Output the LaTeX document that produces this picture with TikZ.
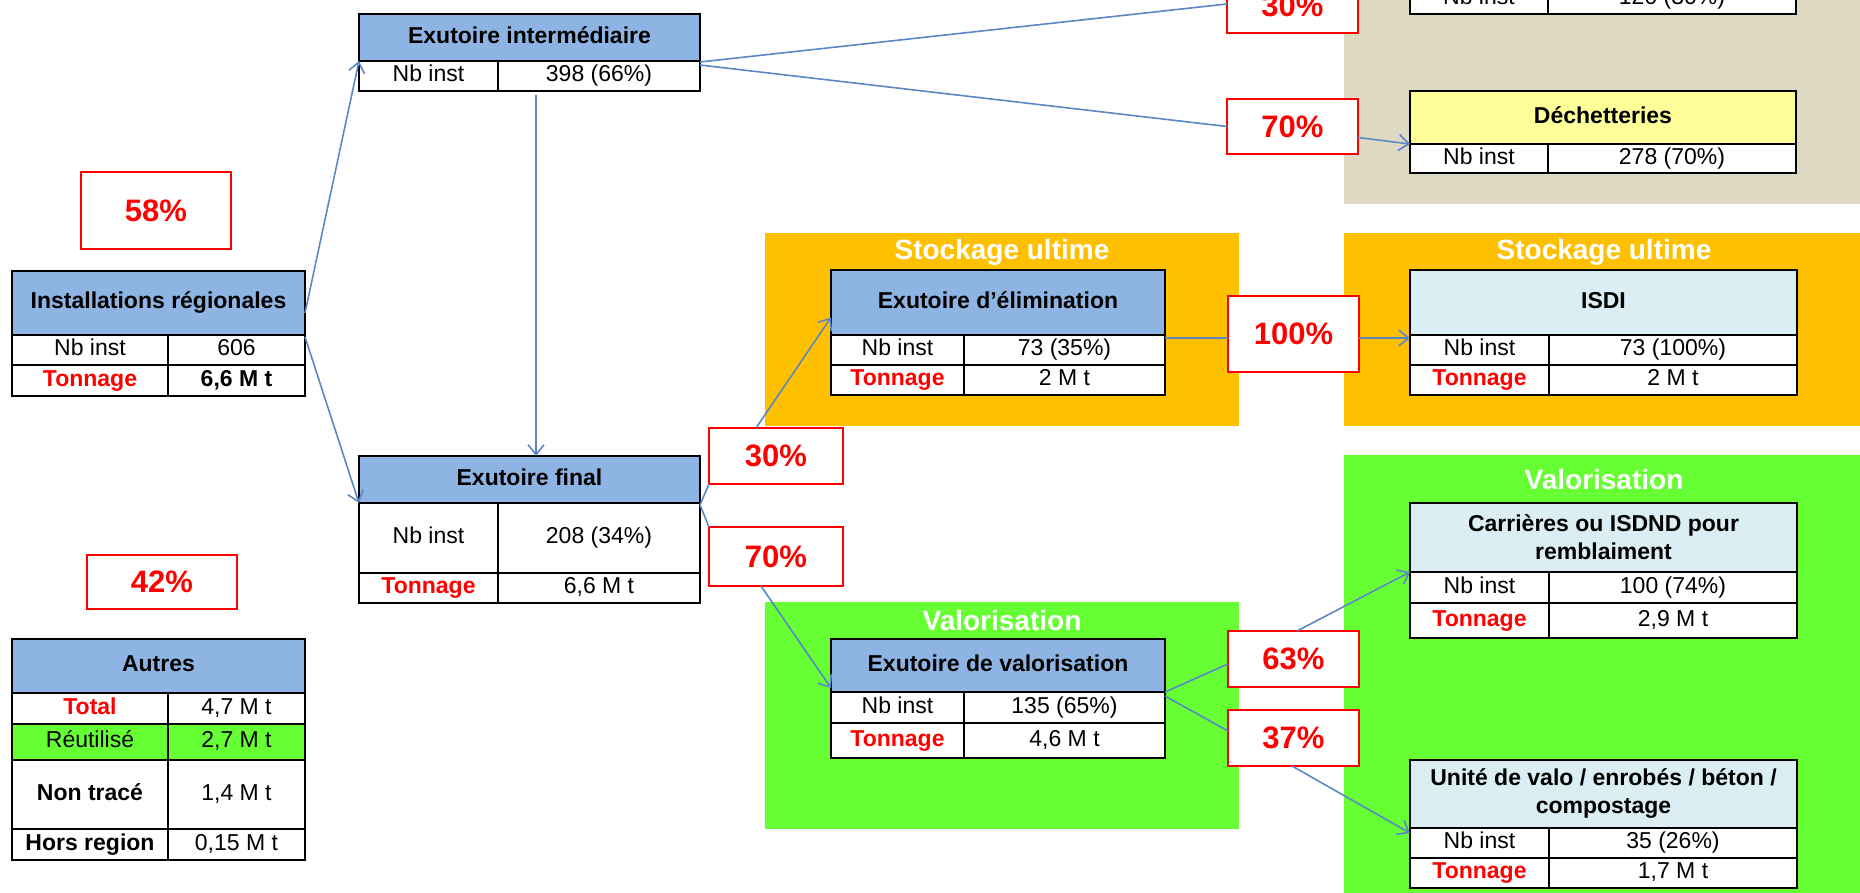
\documentclass[tikz,border=0pt]{standalone}
\usepackage{fontspec}
\setmainfont{Liberation Sans}
\usetikzlibrary{calc,arrows.meta}
\definecolor{hblue}{HTML}{8EB4E3}
\definecolor{lblue}{HTML}{DBEEF3}
\definecolor{yel}{HTML}{FFFF99}
\definecolor{beige}{HTML}{DDD9C3}
\definecolor{orng}{HTML}{FFC000}
\definecolor{grn}{HTML}{66FF33}
\definecolor{arr}{HTML}{5B87C5}
\begin{document}
\begin{tikzpicture}[x=0.5pt,y=-0.5pt,
  cell/.style 2 args={draw=black, line width=0.9pt, minimum width={#1*0.5pt}, minimum height={#2*0.5pt}, anchor=north west, inner sep=0pt, outer sep=0pt, text height=8.3pt, text depth=2.4pt, font=\fontsize{11.5}{14}\selectfont},
  hd/.style={font=\bfseries\fontsize{11.5}{14}\selectfont, align=center},
  two/.style={text height=, text depth=},
  tonn/.style={text=red, font=\bfseries\fontsize{11.5}{14}\selectfont},
  bold/.style={font=\bfseries\fontsize{11.5}{14}\selectfont},
  pct/.style 2 args={draw=red, line width=0.8pt, fill=white, minimum width={#1*0.5pt}, minimum height={#2*0.5pt}, anchor=north west, inner sep=0pt, outer sep=0pt, text=red, font=\bfseries\fontsize{15.5}{18}\selectfont},
  zone/.style 2 args={draw=none, minimum width={#1*0.5pt}, minimum height={#2*0.5pt}, anchor=north west, inner sep=0pt, outer sep=0pt},
  ztitle/.style={text=white, font=\bfseries\fontsize{14}{16}\selectfont, inner sep=0pt},
  conn/.style={draw=arr, line width=0.8pt},
  arrow/.style={conn, -{Straight Barb[length=5pt,width=8pt]}}
]
\useasboundingbox (0,0) rectangle (1860,893);
\clip (0,0) rectangle (1860,893);
% ---------- regions
\node[zone={526}{214}, fill=beige] (zbeige) at (1344,-10) {};
\node[zone={474}{193}, fill=orng] (zst1) at (765,233) {};
\node[zone={526}{193}, fill=orng] (zst2) at (1344,233) {};
\node[zone={474}{227}, fill=grn] (zva1) at (765,602) {};
\node[zone={526}{448}, fill=grn] (zva2) at (1344,455) {};
\node[ztitle] (tst1) at (1002,252) {Stockage ultime};
\node[ztitle] (tst2) at (1604,252) {Stockage ultime};
\node[ztitle] (tva1) at (1002,620) {Valorisation};
\node[ztitle] (tva2) at (1604,479) {Valorisation};
% ---------- Installations regionales
\node[cell={293}{64}, fill=hblue, hd] (insth) at (12,271) {Installations régionales};
\node[cell={156}{30}] (insta1) at (12,335) {Nb inst};
\node[cell={137}{30}] (instb1) at (168,335) {606};
\node[cell={156}{31}, tonn] (insta2) at (12,365) {Tonnage};
\node[cell={137}{31}, bold] (instb2) at (168,365) {6,6 M t};
% ---------- Exutoire intermediaire
\node[cell={341}{47}, fill=hblue, hd] (interh) at (359,14) {Exutoire intermédiaire};
\node[cell={139}{30}] (intera1) at (359,61) {Nb inst};
\node[cell={202}{30}] (interb1) at (498,61) {398 (66\%)};
% ---------- Exutoire final
\node[cell={341}{47}, fill=hblue, hd] (finalh) at (359,456) {Exutoire final};
\node[cell={139}{70}] (finala1) at (359,503) {Nb inst};
\node[cell={202}{70}] (finalb1) at (498,503) {208 (34\%)};
\node[cell={139}{30}, tonn] (finala2) at (359,573) {Tonnage};
\node[cell={202}{30}] (finalb2) at (498,573) {6,6 M t};
% ---------- Autres
\node[cell={293}{54}, fill=hblue, hd] (autresh) at (12,639) {Autres};
\node[cell={156}{31}, tonn] (autresa1) at (12,693) {Total};
\node[cell={137}{31}] (autresb1) at (168,693) {4,7 M t};
\node[cell={156}{36}, fill=grn] (autresa2) at (12,724) {Réutilisé};
\node[cell={137}{36}, fill=grn] (autresb2) at (168,724) {2,7 M t};
\node[cell={156}{69}, bold] (autresa3) at (12,760) {Non tracé};
\node[cell={137}{69}] (autresb3) at (168,760) {1,4 M t};
\node[cell={156}{31}, bold] (autresa4) at (12,829) {Hors region};
\node[cell={137}{31}] (autresb4) at (168,829) {0,15 M t};
% ---------- top partial box
\node[cell={138}{30}, fill=white] (topa1) at (1410,-16) {Nb inst};
\node[cell={248}{30}, fill=white] (topb1) at (1548,-16) {120 (30\%)};
% ---------- Dechetteries
\node[cell={386}{53}, fill=yel, hd] (dechh) at (1410,91) {Déchetteries};
\node[cell={138}{29}, fill=white] (decha1) at (1410,144) {Nb inst};
\node[cell={248}{29}, fill=white] (dechb1) at (1548,144) {278 (70\%)};
% ---------- Exutoire d'elimination
\node[cell={334}{65}, fill=hblue, hd] (elimh) at (831,270) {Exutoire d'élimination};
\node[cell={133}{30}, fill=white] (elima1) at (831,335) {Nb inst};
\node[cell={201}{30}, fill=white] (elimb1) at (964,335) {73 (35\%)};
\node[cell={133}{30}, fill=white, tonn] (elima2) at (831,365) {Tonnage};
\node[cell={201}{30}, fill=white] (elimb2) at (964,365) {2 M t};
% ---------- ISDI
\node[cell={387}{65}, fill=lblue, hd] (isdih) at (1410,270) {ISDI};
\node[cell={139}{30}, fill=white] (isdia1) at (1410,335) {Nb inst};
\node[cell={248}{30}, fill=white] (isdib1) at (1549,335) {73 (100\%)};
\node[cell={139}{30}, fill=white, tonn] (isdia2) at (1410,365) {Tonnage};
\node[cell={248}{30}, fill=white] (isdib2) at (1549,365) {2 M t};
% ---------- Exutoire de valorisation
\node[cell={334}{53}, fill=hblue, hd] (valoh) at (831,639) {Exutoire de valorisation};
\node[cell={133}{31}, fill=white] (valoa1) at (831,692) {Nb inst};
\node[cell={201}{31}, fill=white] (valob1) at (964,692) {135 (65\%)};
\node[cell={133}{35}, fill=white, tonn] (valoa2) at (831,723) {Tonnage};
\node[cell={201}{35}, fill=white] (valob2) at (964,723) {4,6 M t};
% ---------- Carrieres
\node[cell={387}{69}, fill=lblue, hd, two] (carrh) at (1410,503) {Carrières ou ISDND pour\\remblaiment};
\node[cell={139}{31}, fill=white] (carra1) at (1410,572) {Nb inst};
\node[cell={248}{31}, fill=white] (carrb1) at (1549,572) {100 (74\%)};
\node[cell={139}{35}, fill=white, tonn] (carra2) at (1410,603) {Tonnage};
\node[cell={248}{35}, fill=white] (carrb2) at (1549,603) {2,9 M t};
% ---------- Unite de valo
\node[cell={387}{68}, fill=lblue, hd, two] (uniteh) at (1410,760) {Unité de valo / enrobés / béton /\\compostage};
\node[cell={139}{30}, fill=white] (unitea1) at (1410,828) {Nb inst};
\node[cell={248}{30}, fill=white] (uniteb1) at (1549,828) {35 (26\%)};
\node[cell={139}{30}, fill=white, tonn] (unitea2) at (1410,858) {Tonnage};
\node[cell={248}{30}, fill=white] (uniteb2) at (1549,858) {1,7 M t};
% ---------- percentage boxes
\node[pct={150}{77}] (p58) at (81,172) {58\%};
\node[pct={150}{54}] (p42) at (87,555) {42\%};
\node[pct={131}{55}] (p30a) at (1227,-22) {30\%};
\node[pct={131}{55}] (p70a) at (1227,99) {70\%};
\node[pct={131}{76}] (p100) at (1228,296) {100\%};
\node[pct={134}{56}] (p30b) at (709,428) {30\%};
\node[pct={134}{59}] (p70b) at (709,527) {70\%};
\node[pct={131}{56}] (p63) at (1228,631) {63\%};
\node[pct={131}{56}] (p37) at (1228,710) {37\%};
% ---------- connectors
\draw[arrow] ($(insth.east)+(0,10)$) -- (interh.south west);
\draw[arrow] ($(insth.south east)+(0,2)$) -- (finalh.south west);
\draw[arrow] ($(interb1.south west)+(38,4)$) -- ($(finalh.north west)+(177,0)$);
\draw[conn] ($(interh.south east)+(0,1)$) -- ($(p30a.south west)+(0,-29)$);
\draw[conn] ($(interh.south east)+(0,4)$) -- (p70a.west);
\draw[arrow] ($(p70a.east)+(0,11)$) -- (dechh.south west);
\draw[conn] ($(finalh.south east)+(0,2)$) -- (p30b.south west);
\draw[conn] ($(finalh.south east)+(0,2)$) -- (p70b.north west);
\draw[arrow] ($(p30b.north west)+(47,0)$) -- ($(elimh.west)+(0,15)$);
\draw[arrow] ($(p70b.south west)+(52,0)$) -- ($(valoh.south west)+(0,-4)$);
\draw[conn] ($(elimh.south east)+(0,3)$) -- ($(p100.west)+(0,4)$);
\draw[arrow] ($(p100.east)+(0,4)$) -- ($(isdih.south west)+(0,3)$);
\draw[conn] (valoh.south east) -- ($(p63.west)+(0,5)$);
\draw[conn] ($(valoh.south east)+(0,4)$) -- ($(p37.west)+(0,-7)$);
\draw[arrow] ($(p63.north west)+(69,0)$) -- (carrh.south west);
\draw[arrow] ($(p37.south west)+(64,0)$) -- ($(uniteh.south west)+(0,5)$);
\end{tikzpicture}
\end{document}
